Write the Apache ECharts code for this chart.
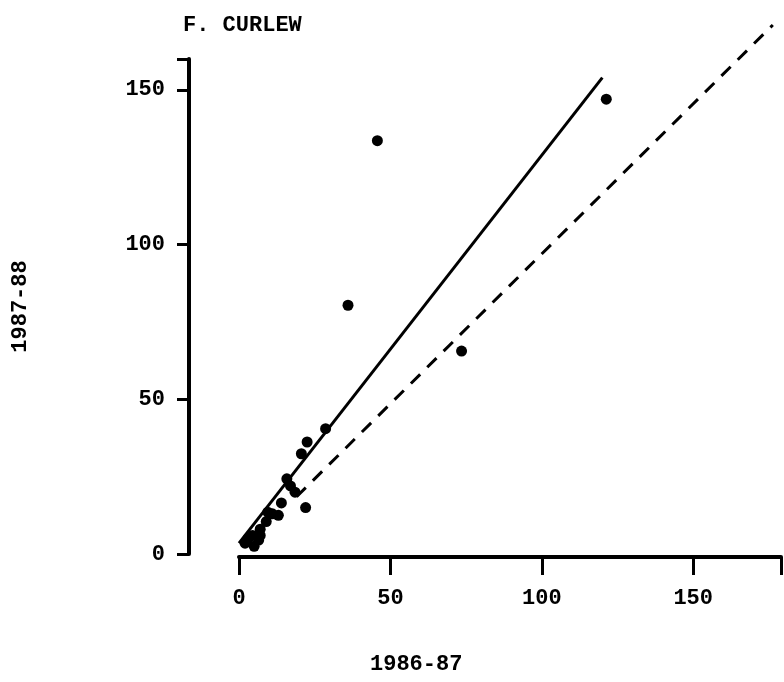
<!DOCTYPE html>
<html>
<head>
<meta charset="utf-8">
<script src="https://cdn.jsdelivr.net/npm/echarts@6/dist/echarts.min.js"></script>
<style>html,body{margin:0;padding:0;background:#fff}#c{width:784px;height:682px}</style>
</head>
<body>
<div id="c"></div>
<script>
// Data (1986-87 count, 1987-88 count)
var x8687 = [121.3, 45.7, 36, 73.5, 28.6, 22.5, 20.6, 15.8, 18.5, 17, 22, 14, 13, 11, 9.5, 9, 7, 4.5, 3, 2, 6.5, 5, 7];
var y8788 = [147, 133.6, 80.4, 65.6, 40.5, 36.2, 32.4, 24.3, 20, 22, 15, 16.5, 12.5, 13, 13.5, 10.5, 8, 6, 5, 3.5, 4.5, 2.5, 6];
var fitX = [0, 120];
var fitY = [3.5, 154];
var refX = [19, 176.3];
var refY = [18.5, 171];
var xTicks = [0, 50, 100, 150];
var yTicks = [0, 50, 100, 150];

var pts = x8687.map(function (v, i) { return [v, y8788[i]]; });
var fit = fitX.map(function (v, i) { return [v, fitY[i]]; });
var ref = refX.map(function (v, i) { return [v, refY[i]]; });

var FONT = 'Liberation Mono';
var chart = echarts.init(document.getElementById('c'));
chart.setOption({
  backgroundColor: '#fff',
  animation: false,
  title: [
    { text: 'F. CURLEW', left: 178, top: 9, textStyle: { fontFamily: FONT, fontWeight: 'bold', fontSize: 22, color: '#000' } },
    { text: '1986-87', left: 365, top: 648, textStyle: { fontFamily: FONT, fontWeight: 'bold', fontSize: 22, color: '#000' } }
  ],
  grid: { left: 239, right: 1, top: 59, bottom: 128 },
  xAxis: {
    type: 'value', min: 0, max: 179, interval: 50, offset: 3,
    axisLine: { show: true, onZero: false, lineStyle: { color: '#000', width: 4 } },
    axisTick: { show: true, inside: false, length: 18, lineStyle: { color: '#000', width: 3 } },
    axisLabel: { margin: 30, fontFamily: FONT, fontWeight: 'bold', fontSize: 22, color: '#000',
      formatter: function (v) { return xTicks.indexOf(v) >= 0 ? String(v) : ''; } },
    splitLine: { show: false }
  },
  yAxis: {
    type: 'value', min: 0, max: 160, interval: 50, offset: 50,
    name: '1987-88', nameLocation: 'middle', nameGap: 158, nameRotate: 90,
    nameTextStyle: { fontFamily: FONT, fontWeight: 'bold', fontSize: 22, color: '#000' },
    axisLine: { show: true, onZero: false, lineStyle: { color: '#000', width: 4 } },
    axisTick: { show: true, length: 12, lineStyle: { color: '#000', width: 3 } },
    axisLabel: { margin: 24, fontFamily: FONT, fontWeight: 'bold', fontSize: 22, color: '#000',
      formatter: function (v) { return yTicks.indexOf(v) >= 0 ? String(v) : ''; } },
    splitLine: { show: false }
  },
  series: [
    { type: 'line', data: fit, symbol: 'none', clip: false, lineStyle: { color: '#000', width: 3 }, z: 3 },
    { type: 'line', data: ref, symbol: 'none', clip: false, lineStyle: { color: '#000', width: 3, type: [13, 10] }, z: 3 },
    { type: 'scatter', data: pts, symbol: 'circle', symbolSize: 11, itemStyle: { color: '#000', opacity: 1 }, clip: false, z: 4 }
  ]
});
</script>
</body>
</html>
